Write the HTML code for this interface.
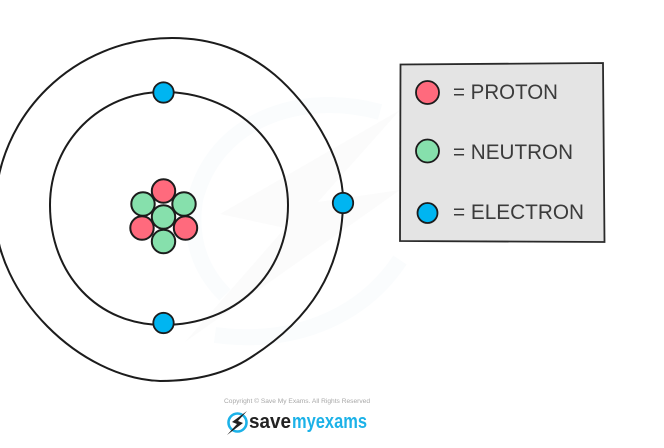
<!DOCTYPE html>
<html>
<head>
<meta charset="utf-8">
<style>
html,body{margin:0;padding:0;background:#fff;width:664px;height:448px;overflow:hidden}
svg{display:block}
text{font-family:"Liberation Sans",sans-serif}
</style>
</head>
<body>
<svg width="664" height="448" viewBox="0 0 664 448" xmlns="http://www.w3.org/2000/svg">
  <defs><filter id="s" x="-5%" y="-5%" width="110%" height="110%"><feGaussianBlur stdDeviation="0.35"/></filter></defs>
  <!-- watermark -->
  <g fill="none" stroke="#fafcfd" stroke-width="16">
    <path d="M380 112C300 90 215 120 195 200C188 245 205 275 225 295"/>
    <path d="M215 335C290 345 360 320 400 260"/>
  </g>
  <path d="M220 214L400 110L318 202L400 190L185 342L285 228Z" fill="#fbfbfb"/>

  <g filter="url(#s)">
  <!-- shells -->
  <g fill="none" stroke="#1a1a1a" stroke-width="2">
    <path d="M172 38C212 38 245 50 275 75C308 103 343 155 343 200C343 270 310 320 250 358C222 376 190 381 160 381C80 378 -5 295 -5 212C-5 115 75 38 172 38Z"/>
    <path d="M163 92C232 92 288 141 288 205C288 275 235 325 163 325C98 325 50 275 50 205C50 142 100 92 163 92Z"/>
  </g>

  <!-- electrons -->
  <g fill="#00b5f1" stroke="#1a1a1a" stroke-width="1.8">
    <circle cx="163.500" cy="92.500" r="10.200"/>
    <circle cx="163.500" cy="323" r="10.200"/>
    <circle cx="343" cy="203" r="10.200"/>
  </g>

  <!-- nucleus -->
  <g stroke="#1a1a1a" stroke-width="2">
    <circle cx="163.500" cy="191" r="11.700" fill="#ff6b7d"/>
    <circle cx="143" cy="204" r="11.700" fill="#86e0ac"/>
    <circle cx="184" cy="204" r="11.700" fill="#86e0ac"/>
    <circle cx="142" cy="228" r="11.700" fill="#ff6b7d"/>
    <circle cx="185.500" cy="228" r="11.700" fill="#ff6b7d"/>
    <circle cx="163.500" cy="241.500" r="11.700" fill="#86e0ac"/>
    <circle cx="163.500" cy="217" r="11.700" fill="#86e0ac"/>
  </g>

  <!-- legend -->
  <path d="M400.500 64.500L603 63L604.500 242L400 241Z" fill="#e4e4e4" stroke="#2a2a2a" stroke-width="1.800"/>
  <circle cx="427.500" cy="92.500" r="11.500" fill="#ff6b7d" stroke="#1a1a1a" stroke-width="1.800"/>
  <circle cx="427.500" cy="151" r="11.500" fill="#86e0ac" stroke="#1a1a1a" stroke-width="1.800"/>
  <circle cx="427.500" cy="213" r="10" fill="#00b5f1" stroke="#1a1a1a" stroke-width="1.800"/>
  <g fill="#3a3a3a" font-size="21">
    <text x="453" y="99" textLength="105" lengthAdjust="spacingAndGlyphs">= PROTON</text>
    <text x="453" y="159" textLength="120" lengthAdjust="spacingAndGlyphs">= NEUTRON</text>
    <text x="453" y="219" textLength="131" lengthAdjust="spacingAndGlyphs">= ELECTRON</text>
  </g>

  <!-- footer -->
  <text x="224" y="403" font-size="6.500" fill="#a8a8a8" textLength="146" lengthAdjust="spacingAndGlyphs">Copyright © Save My Exams. All Rights Reserved</text>
  <circle cx="237.500" cy="422.500" r="9" fill="none" stroke="#1fb2e8" stroke-width="2.600"/>
  <path d="M247 411L232 422L237 424L227 435L243 423L238 421Z" fill="#222"/>
  <text x="249" y="428" font-size="20" font-weight="bold" fill="#222" textLength="42" lengthAdjust="spacingAndGlyphs">save</text>
  <text x="292" y="428" font-size="20" font-weight="bold" fill="#1fb2e8" textLength="75" lengthAdjust="spacingAndGlyphs">myexams</text>
  </g>
</svg>
</body>
</html>
